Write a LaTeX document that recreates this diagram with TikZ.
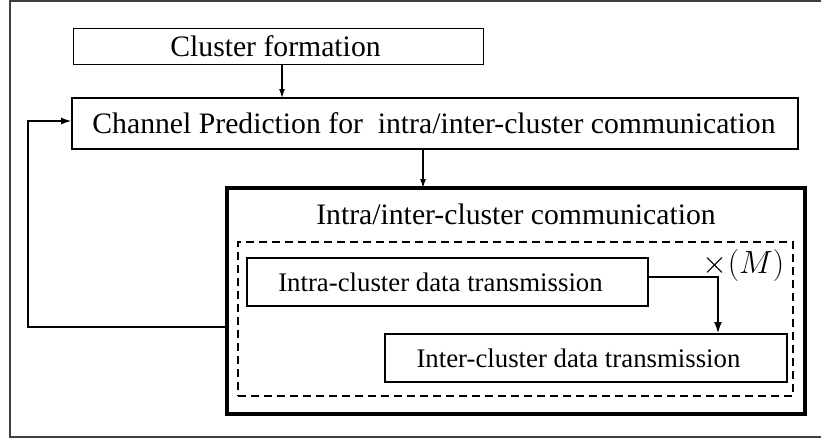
\documentclass[tikz,border=0pt]{standalone}
\usepackage{fontspec}
\setmainfont{Liberation Serif}
\usetikzlibrary{arrows.meta}
\begin{document}
\begin{tikzpicture}[x=1pt,y=-1pt,
  every node/.style={inner sep=0pt, outer sep=0pt},
  bigfont/.style={font=\fontsize{29.7pt}{31pt}\selectfont},
  smallfont/.style={font=\fontsize{26.8pt}{28pt}\selectfont},
  stagebox/.style={draw, rectangle},
  flow/.style={-{Latex[length=9pt,width=6pt]}, line width=1.2pt}]
\useasboundingbox (0,0) rectangle (821,440);

% open outer frame
\draw[line width=1.5pt, black!75] (821,1) -- (10,1) -- (10,437) -- (821,437);

% top stages
\node[stagebox, line width=1pt, minimum width=410pt, minimum height=36pt] (cf) at (278,46) {};
\node[bigfont] (cft) at (275.5,46) {Cluster formation};
\node[stagebox, line width=2pt, minimum width=726pt, minimum height=51pt] (cp) at (435,123.5) {};
\node[bigfont] (cpt) at (434,123.5) {Channel Prediction for\ \ intra/inter-cluster communication};

% communication block
\node[stagebox, line width=4.5pt, minimum width=578pt, minimum height=226pt] (cb) at (516,301) {};
\node[bigfont] (cbt) at (516,214) {Intra/inter-cluster communication};
\node[draw, dash pattern=on 8pt off 5pt, line width=1.5pt, minimum width=555pt, minimum height=154pt] (rep) at (515.5,319) {};

\node[stagebox, line width=1.3pt, minimum width=401pt, minimum height=48pt] (intra) at (447.5,282) {};
\node[smallfont] (intrat) at (440.5,282) {Intra-cluster data transmission};
\node[stagebox, line width=1.3pt, minimum width=402pt, minimum height=48pt] (inter) at (586,358) {};
\node[smallfont] (intert) at (578.5,358) {Inter-cluster data transmission};
% repetition count; math fonts stop at 24.88pt, so the node is scaled up
\node[font=\fontsize{24.88pt}{26pt}\selectfont, scale=1.29] (mult) at (743.5,265) {$\times(M)$};

% connectors
\coordinate (a1) at (282,64);
\coordinate (a2) at (423,149);
\draw[flow] (a1) -- (a1 |- cp.north);
\draw[flow] (a2) -- (a2 |- cb.north);
\coordinate (turn) at (718,277);
\draw[-{Latex[length=12pt,width=8pt]}, line width=2.5pt] (intra.east |- turn) -- (turn) -- (turn |- inter.north);
\coordinate (fbL) at (28,327);
\coordinate (fbT) at (28,121);
\draw[-{Latex[length=11pt,width=7pt]}, line width=2pt] (cb.west |- fbL) -- (fbL) -- (fbT) -- (cp.west |- fbT);
\end{tikzpicture}
\end{document}
